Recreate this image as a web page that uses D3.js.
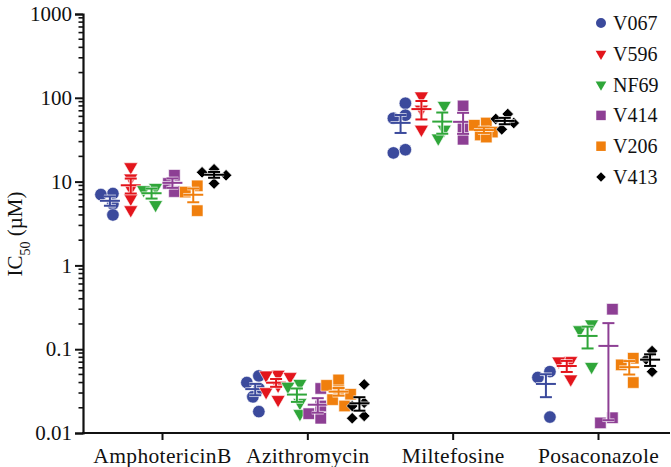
<!DOCTYPE html>
<html><head><meta charset="utf-8">
<script src="https://cdn.jsdelivr.net/npm/d3@7"></script>
<style>
html,body{margin:0;padding:0;background:#fff;}
svg text{font-family:"Liberation Serif","Times New Roman",serif;fill:#111;}
</style></head>
<body><svg id="chart" width="671" height="467"></svg>
<script>
// ---- data ----
const categories = ["AmphotericinB","Azithromycin","Miltefosine","Posaconazole"];
const strains = ["V067","V596","NF69","V414","V206","V413"];
const yTickValues = [0.01,0.1,1,10,100,1000];
const yTickLabels = ["0.01","0.1","1","10","100","1000"];
// per strain: one array of replicate IC50 values (µM) per drug
const V067 = [[7.2,7.0,5.4,4.0],[0.048,0.040,0.034,0.027,0.018],[86,62,57,24,22],[0.054,0.046,0.0155]];
const V596 = [[15,11,8.3,6.3,4.6],[0.050,0.049,0.047,0.037,0.031,0.025],[105,73,42],[0.073,0.072,0.044]];
const NF69 = [[8.5,8.0,5.3],[0.039,0.036,0.023,0.017],[81,42,33],[0.20,0.17,0.062]];
const V414 = [[11.9,9.5,7.6],[0.034,0.021,0.017,0.015],[80,43,32],[0.30,0.0152,0.0132]];
const V206 = [[8.9,7.5,4.5],[0.043,0.037,0.032,0.029,0.025,0.021],[50,47,39,36,34],[0.078,0.065,0.040]];
const V413 = [[14,12.9,11.9,9.5],[0.038,0.023,0.021,0.016,0.015],[64,56,50,42],[0.095,0.076,0.054]];
const seriesValues = [V067,V596,NF69,V414,V206,V413];
const colors = ["#3b4a9c","#e3151c","#2fa639","#8d3f94","#f07f0d","#000000"];
const shapes = ["circle","triDown","triDown","square","square","diamond"];

// ---- layout ----
const svg = d3.select("#chart");
const y = d3.scaleLog().domain([0.01,1000]).range([433,14]);
const x = d3.scalePoint().domain(categories).range([162,598]);
const xs = d3.scaleBand().domain(strains).range([-62.5,62.5]);
const axisX0 = 83, axisX1 = 670;

function symbolPath(shape, s){
  if(shape==="circle") return d3.symbol(d3.symbolCircle, s*s*0.785)();
  if(shape==="square") return d3.symbol(d3.symbolSquare, s*s)();
  if(shape==="diamond") return d3.symbol(d3.symbolSquare, s*s*0.5)();
  if(shape==="triDown") return d3.symbol(d3.symbolTriangle, s*s*0.55)();
}
function symbolRot(shape){
  if(shape==="diamond") return 45;
  if(shape==="triDown") return 180;
  return 0;
}
const markSize = [12.5,12.5,12.5,11.5,11.5,11.5];

// ---- y axis ----
const yAxis = d3.axisLeft(y).tickValues(yTickValues).tickFormat((d,i)=>yTickLabels[i]).tickSize(8).tickPadding(3);
const gy = svg.append("g").attr("transform",`translate(${axisX0},0)`).call(yAxis);
gy.select(".domain").attr("stroke","#111").attr("stroke-width",2.2);
gy.selectAll(".tick line").attr("stroke","#111").attr("stroke-width",2);
gy.selectAll(".tick text").style("font-size","21px").attr("fill","#111");
const minor = [];
for(let e=-2;e<3;e++) for(let m=2;m<10;m++) minor.push(m*Math.pow(10,e));
gy.selectAll(".minor").data(minor).enter().append("line").attr("class","minor")
  .attr("x1",-4.5).attr("x2",0).attr("y1",d=>y(d)).attr("y2",d=>y(d))
  .attr("stroke","#111").attr("stroke-width",1.6);

svg.append("text").attr("transform","translate(22,234) rotate(-90)")
  .attr("text-anchor","middle").style("font-size","21px")
  .html('IC<tspan baseline-shift="sub" style="font-size:14px">50</tspan> (µM)');

// ---- x axis ----
const gx = svg.append("g").attr("transform","translate(0,433)");
gx.append("line").attr("x1",axisX0-1).attr("x2",axisX1).attr("y1",0).attr("y2",0)
  .attr("stroke","#111").attr("stroke-width",2.2);
const xAxis = d3.axisBottom(x).tickSize(7).tickPadding(8);
const gxa = gx.append("g").call(xAxis);
gxa.select(".domain").remove();
gxa.selectAll(".tick line").attr("stroke","#111").attr("stroke-width",2);
gxa.selectAll(".tick text").style("font-size","21.5px").style("letter-spacing","0.35px").attr("fill","#111");

// ---- points ----
const plot = svg.append("g");
strains.forEach((st,si)=>{
  categories.forEach((cat,ci)=>{
    const vals = seriesValues[si][ci];
    const cx = x(cat) + xs(st) + xs.bandwidth()/2;
    // simple swarm placement, then recentre the group
    const pts = vals.map(v=>({v, py:y(v)})).sort((a,b)=>a.py-b.py);
    const placed = [];
    const offs = [0,-6,6,-12,12];
    const dmin = 10;
    pts.forEach(p=>{
      let best = null;
      for(const o of offs){
        if(placed.every(q=>Math.hypot(q.dx-o,q.py-p.py)>=dmin)){best=o;break;}
      }
      p.dx = best===null ? 0 : best; placed.push(p);
    });
    const shift = d3.mean(pts,p=>p.dx);
    pts.forEach(p=>p.dx-=shift);
    plot.selectAll(null).data(pts).enter().append("path")
      .attr("d",symbolPath(shapes[si],markSize[si]))
      .attr("transform",d=>`translate(${cx+d.dx},${d.py}) rotate(${symbolRot(shapes[si])})`)
      .attr("fill",colors[si]).attr("stroke","#fff").attr("stroke-width",0.6);
    // mean ± SEM
    const mean = d3.mean(vals);
    const sem = d3.deviation(vals)/Math.sqrt(vals.length);
    const lo = Math.max(mean-sem, 0.0101), hi = mean+sem;
    const eb = plot.append("g");
    const segs = [
      [cx,cx,y(lo),y(hi)],
      [cx-10,cx+10,y(mean),y(mean)],
      [cx-6,cx+6,y(hi),y(hi)],
      [cx-6,cx+6,y(lo),y(lo)]
    ];
    eb.selectAll(".halo").data(segs).enter().append("line")
      .attr("x1",d=>d[0]).attr("x2",d=>d[1]).attr("y1",d=>d[2]).attr("y2",d=>d[3])
      .attr("stroke","#fff").attr("stroke-width",3.6).attr("stroke-opacity",0.8);
    eb.selectAll(".seg").data(segs).enter().append("line")
      .attr("x1",d=>d[0]).attr("x2",d=>d[1]).attr("y1",d=>d[2]).attr("y2",d=>d[3])
      .attr("stroke",colors[si]).attr("stroke-width",2);
  });
});

// ---- legend ----
const lg = svg.append("g");
strains.forEach((st,i)=>{
  const ly = 23 + i*30.8;
  lg.append("path").attr("d",symbolPath(shapes[i],shapes[i]==="circle"?10:9.5))
    .attr("transform",`translate(601,${ly}) rotate(${symbolRot(shapes[i])})`)
    .attr("fill",colors[i]);
  lg.append("text").attr("x",613).attr("y",ly).attr("dy","0.35em")
    .style("font-size","20px").text(st);
});
</script></body></html>
